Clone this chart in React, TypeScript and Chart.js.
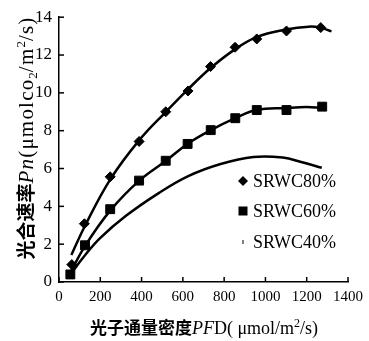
import React, { useEffect, useRef } from "react";
import { Chart, registerables } from "chart.js";

Chart.register(...registerables);

// Measured points
const pfd80 = [62, 123, 248, 388, 517, 625, 734, 853, 958, 1102, 1268];
const pn80 = [0.92, 3.08, 5.56, 7.43, 9.0, 10.1, 11.39, 12.41, 12.85, 13.27, 13.45];
const pfd60 = [55, 126, 248, 388, 517, 623, 735, 854, 958, 1102, 1275];
const pn60 = [0.4, 1.94, 3.85, 5.36, 6.41, 7.3, 8.03, 8.66, 9.09, 9.09, 9.27];

// Trend curves
const fitX80 = [60, 125, 250, 389, 518, 626, 733, 852, 957, 1100, 1210, 1265, 1320];
const fitY80 = [1.43, 2.95, 5.45, 7.5, 9.0, 10.2, 11.3, 12.3, 12.95, 13.35, 13.5, 13.45, 13.25];
const fitX60 = [50, 128, 250, 389, 518, 622, 736, 854, 957, 1100, 1200, 1273];
const fitY60 = [0.4, 1.94, 3.8, 5.36, 6.41, 7.3, 8.03, 8.66, 9.09, 9.2, 9.25, 9.2];
const fitX40 = [55, 125, 199, 326, 483, 626, 783, 942, 1084, 1178, 1273];
const fitY40 = [0.4, 1.4, 2.32, 3.51, 4.7, 5.6, 6.24, 6.61, 6.58, 6.33, 6.04];

const legendLabels = ["SRWC80%", "SRWC60%", "SRWC40%"];
const xTitleParts = ["光子通量密度", "PF", "D( μmol/m", "2", "/s)"];
const yTitleParts = ["光合速率", "Pn", "(μmolco", "2", "/m", "2", "/s)"];

const SERIF = "'Liberation Serif', 'DejaVu Serif', serif";
const CJK = "'Noto Sans CJK SC', sans-serif";

const toXY = (xs: number[], ys: number[]) => xs.map((x, i) => ({ x, y: ys[i] }));

type Seg = { t: string; font: string; dy?: number; ls?: number };

function drawSegs(ctx: CanvasRenderingContext2D, segs: Seg[], cx: number, cy: number) {
  const c: any = ctx;
  let total = 0;
  segs.forEach((s) => {
    ctx.font = s.font;
    c.letterSpacing = `${s.ls || 0}px`;
    total += ctx.measureText(s.t).width;
  });
  let x = cx - total / 2;
  segs.forEach((s) => {
    ctx.font = s.font;
    c.letterSpacing = `${s.ls || 0}px`;
    ctx.fillText(s.t, x, cy + (s.dy || 0));
    x += ctx.measureText(s.t).width;
  });
  c.letterSpacing = "0px";
}

const decorPlugin = {
  id: "decor",
  afterDraw(chart: any) {
    const ctx: CanvasRenderingContext2D = chart.ctx;
    const xs = chart.scales.x;
    const ys = chart.scales.y;
    const area = chart.chartArea;
    ctx.save();
    // inward ticks
    ctx.strokeStyle = "#000";
    ctx.lineWidth = 1.5;
    xs.ticks.forEach((t: any) => {
      const px = xs.getPixelForValue(t.value);
      ctx.beginPath();
      ctx.moveTo(px, area.bottom);
      ctx.lineTo(px, area.bottom - 5);
      ctx.stroke();
    });
    ys.ticks.forEach((t: any) => {
      const py = ys.getPixelForValue(t.value);
      ctx.beginPath();
      ctx.moveTo(area.left, py);
      ctx.lineTo(area.left + 5, py);
      ctx.stroke();
    });

    // legend
    ctx.fillStyle = "#000";
    const lx = 243;
    const rows = [181, 211, 242];
    rows.forEach((ry, i) => {
      ctx.save();
      ctx.fillStyle = "#000";
      ctx.strokeStyle = "#000";
      ctx.lineWidth = 1;
      if (i === 0) {
        ctx.beginPath();
        ctx.moveTo(lx, ry - 5);
        ctx.lineTo(lx + 5, ry);
        ctx.lineTo(lx, ry + 5);
        ctx.lineTo(lx - 5, ry);
        ctx.closePath();
        ctx.fill();
      } else if (i === 1) {
        ctx.fillRect(lx - 4.5, ry - 4.5, 9, 9);
      } else {
        ctx.beginPath();
        ctx.moveTo(lx, ry - 2);
        ctx.lineTo(lx, ry + 2);
        ctx.stroke();
      }
      ctx.restore();
      ctx.font = `18px ${SERIF}`;
      ctx.textBaseline = "middle";
      ctx.textAlign = "left";
      ctx.fillText(legendLabels[i], 253, ry + 1);
    });

    // x title
    ctx.textBaseline = "alphabetic";
    ctx.textAlign = "left";
    drawSegs(
      ctx,
      [
        { t: xTitleParts[0], font: `bold 17px ${CJK}` },
        { t: xTitleParts[1], font: `italic 18px ${SERIF}` },
        { t: xTitleParts[2], font: `18px ${SERIF}` },
        { t: xTitleParts[3], font: `12px ${SERIF}`, dy: -7 },
        { t: xTitleParts[4], font: `18px ${SERIF}` },
      ],
      204,
      334
    );

    // y title
    ctx.translate(33, 138);
    ctx.rotate(-Math.PI / 2);
    drawSegs(
      ctx,
      [
        { t: yTitleParts[0], font: `bold 19px ${CJK}` },
        { t: yTitleParts[1], font: `italic 21px ${SERIF}`, ls: 1.2 },
        { t: yTitleParts[2], font: `21px ${SERIF}`, ls: 1.2 },
        { t: yTitleParts[3], font: `13px ${SERIF}`, dy: 4 },
        { t: yTitleParts[4], font: `21px ${SERIF}`, ls: 1.2 },
        { t: yTitleParts[5], font: `13px ${SERIF}`, dy: -8 },
        { t: yTitleParts[6], font: `21px ${SERIF}`, ls: 1.2 },
      ],
      0,
      0
    );
    ctx.restore();
  },
};

const curve = (xs: number[], ys: number[]) => ({
  data: toXY(xs, ys),
  showLine: true,
  pointRadius: 0,
  borderColor: "#000",
  borderWidth: 2.5,
  tension: 0.4,
});

export default function App() {
  const ref = useRef<HTMLCanvasElement>(null);
  useEffect(() => {
    if (!ref.current) return;
    const chart = new Chart(ref.current, {
      type: "scatter",
      data: {
        datasets: [
          {
            label: legendLabels[0],
            data: toXY(pfd80, pn80),
            pointStyle: "rectRot",
            pointRadius: 5,
            backgroundColor: "#000",
            borderColor: "#000",
            showLine: false,
          },
          {
            label: legendLabels[1],
            data: toXY(pfd60, pn60),
            pointStyle: "rect",
            pointRadius: 6.3,
            backgroundColor: "#000",
            borderColor: "#000",
            showLine: false,
          },
          { label: "fit80", ...curve(fitX80, fitY80) },
          { label: "fit60", ...curve(fitX60, fitY60) },
          { label: "fit40", ...curve(fitX40, fitY40) },
        ],
      } as any,
      options: {
        animation: false,
        responsive: true,
        maintainAspectRatio: false,
        layout: { autoPadding: false, padding: { left: 0, right: 17, top: 9, bottom: 0 } },
        plugins: { legend: { display: false }, tooltip: { enabled: false } },
        scales: {
          x: {
            type: "linear",
            min: 0,
            max: 1400,
            ticks: {
              stepSize: 200,
              color: "#000",
              font: { family: SERIF, size: 15 },
              padding: 6,
              maxRotation: 0,
              callback: (v: any) => String(v),
            },
            grid: { display: false, drawTicks: false },
            border: { display: true, color: "#000", width: 1.5 },
            afterFit: (s: any) => {
              s.height = 59;
            },
          },
          y: {
            min: 0,
            max: 14,
            ticks: {
              stepSize: 2,
              color: "#000",
              font: { family: SERIF, size: 17 },
              padding: 7,
            },
            grid: { display: false, drawTicks: false },
            border: { display: true, color: "#000", width: 1.5 },
            afterFit: (s: any) => {
              s.width = 59;
            },
          },
        },
      } as any,
      plugins: [decorPlugin],
    });
    return () => chart.destroy();
  }, []);
  return (
    <div style={{ position: "absolute", left: 0, top: 0, width: 369, height: 341 }}>
      <canvas ref={ref} />
    </div>
  );
}
